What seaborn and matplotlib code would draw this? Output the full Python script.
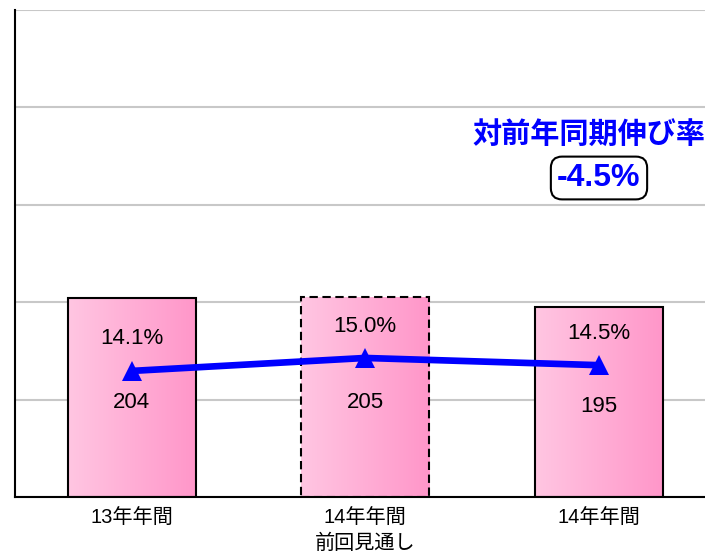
import matplotlib
matplotlib.use("Agg")
import matplotlib.pyplot as plt
from matplotlib.colors import LinearSegmentedColormap
import numpy as np
import pandas as pd
import seaborn as sns

# Данные графика
categories = ["13年年間", "14年年間\n前回見通し", "14年年間"]
values = [204, 205, 195]
growth = [14.1, 15.0, 14.5]
growth_labels = ["14.1%", "15.0%", "14.5%"]
yoy_title = "対前年同期伸び率"
yoy_value = "-4.5%"

sns.set_style("white")
plt.rcParams["font.family"] = ["Liberation Sans", "Noto Sans CJK JP", "DejaVu Sans"]
plt.rcParams["text.color"] = "black"
plt.rcParams["xtick.color"] = "black"
plt.rcParams["xtick.labelcolor"] = "black"

df = pd.DataFrame({"cat": categories, "value": values})

fig = plt.figure(figsize=(7.05, 5.58), dpi=100)
ax = fig.add_axes([15 / 705, 61 / 558, 690 / 705, 487 / 558])

sns.barplot(data=df, x="cat", y="value", ax=ax, width=0.55,
            color="#ffb0d8", edgecolor="black", linewidth=1.5)

# Градиентная заливка столбцов
pink = LinearSegmentedColormap.from_list("pink", ["#ffc6e2", "#ff96c9"])
grad = np.linspace(0, 1, 256).reshape(1, -1)
for i, bar in enumerate(ax.patches):
    x0, y0 = bar.get_x(), bar.get_y()
    w, h = bar.get_width(), bar.get_height()
    img = ax.imshow(grad, cmap=pink, aspect="auto", extent=(x0, x0 + w, y0, y0 + h),
                    zorder=bar.get_zorder() - 0.1)
    img.set_clip_path(bar)
    bar.set_facecolor("none")
    if i == 1:
        bar.set_linestyle((0, (4, 2.2)))

ax.set_xlim(-0.5, 2.455)
ax.set_ylim(0, 500)
ax.set_yticks(range(0, 501, 100))
ax.set_yticklabels([])
ax.yaxis.grid(True, color="#c8c8c8", linewidth=1.5)
ax.set_axisbelow(True)
ax.set_xlabel("")
ax.set_ylabel("")
ax.tick_params(axis="x", length=0, pad=8, labelsize=14.5)
ax.tick_params(axis="y", length=0)
for lab in ax.get_xticklabels():
    lab.set_linespacing(1.45)
for s in ["top", "right"]:
    ax.spines[s].set_visible(False)
for s in ["left", "bottom"]:
    ax.spines[s].set_color("black")
    ax.spines[s].set_linewidth(1.5)

for i, v in enumerate(values):
    ax.text(i, v * 0.475, str(v), ha="center", va="center", fontsize=16,
            color="black", zorder=5)

# Линия роста на второй оси
ax2 = ax.twinx()
sns.lineplot(x=np.arange(len(growth)), y=growth, ax=ax2, color="#0000ff",
             linewidth=4.8, marker="^", markersize=15, markeredgewidth=0)
ax2.set_ylim(5.35, 39.15)
ax2.set_xlim(-0.5, 2.455)
ax2.axis("off")

for i, (g, lab) in enumerate(zip(growth, growth_labels)):
    ax2.annotate(lab, (i, g), xytext=(0, 23), textcoords="offset points",
                 ha="center", va="center", fontsize=16, color="black")

fig.text(589 / 705, 1 - 135 / 558, yoy_title, ha="center", va="center",
         fontsize=21, fontweight="bold", color="#0000ff")
fig.text(599 / 705, 1 - 178 / 558, yoy_value, ha="center", va="center",
         fontsize=23, fontweight="bold", color="#0000ff",
         bbox=dict(boxstyle="round,pad=0.2,rounding_size=0.35", fc="white",
                   ec="black", lw=1.5))

fig.savefig("out.png", dpi=100)
